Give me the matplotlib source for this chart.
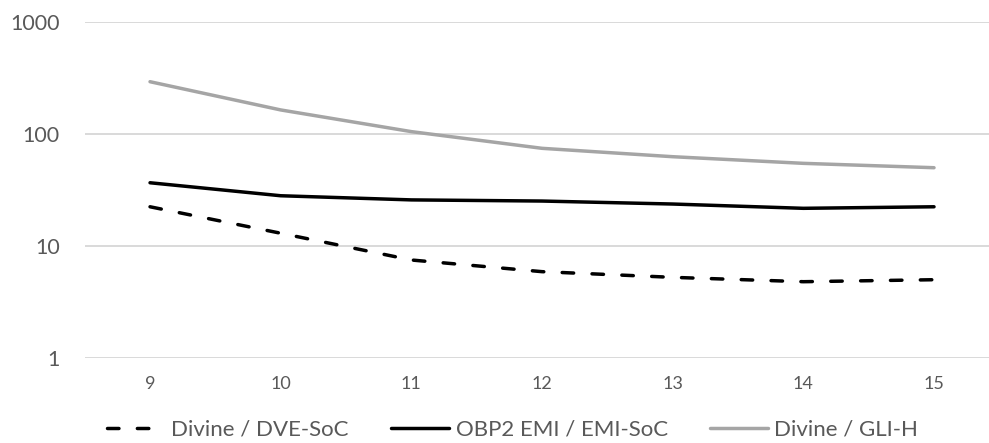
import matplotlib
matplotlib.use("Agg")
import matplotlib.pyplot as plt
from matplotlib.ticker import FixedLocator, NullLocator

categories = [9, 10, 11, 12, 13, 14, 15]
dve_soc = [22.4, 13.0, 7.5, 5.9, 5.25, 4.8, 5.0]
emi_soc = [36.7, 28.1, 25.8, 25.2, 23.7, 21.7, 22.4]
gli_h = [293, 164, 105, 74.5, 62.7, 54.7, 50]
series_names = ["Divine / DVE-SoC", "OBP2 EMI / EMI-SoC", "Divine / GLI-H"]
y_ticks = [1, 10, 100, 1000]
y_tick_labels = ["1", "10", "100", "1000"]

plt.rcParams['font.family'] = ['Lato', 'DejaVu Sans']

W, H = 989, 443
fig = plt.figure(figsize=(W / 100, H / 100), dpi=100)
left_px, right_px = 84.7, 989
top_px, bot_px = 22, 358
ax = fig.add_axes([left_px / W, 1 - bot_px / H, (right_px - left_px) / W, (bot_px - top_px) / H])

lw = 2.5
ax.plot(categories, dve_soc, color="black", lw=lw, linestyle=(0, (3.3, 5.3)),
        dash_capstyle="round", dash_joinstyle="round", label=series_names[0])
ax.plot(categories, emi_soc, color="black", lw=lw, solid_joinstyle="round",
        solid_capstyle="round", label=series_names[1])
ax.plot(categories, gli_h, color="#A5A5A5", lw=lw, solid_joinstyle="round",
        solid_capstyle="round", label=series_names[2])

ax.set_yscale("log")
ax.set_ylim(1, 1000)
ax.set_xlim(8.5, 15 + (989 - 934) / 130.7)
ax.yaxis.set_major_locator(FixedLocator(y_ticks))
ax.yaxis.set_minor_locator(NullLocator())
ax.set_yticklabels(y_tick_labels)
ax.set_xticks(categories)
ax.set_xticklabels([str(c) for c in categories])

ax.grid(axis="y", color="#D9D9D9", lw=1.4)
ax.set_axisbelow(True)
for s in ax.spines.values():
    s.set_visible(False)
ax.tick_params(axis="y", length=0, pad=18, labelsize=15.5, labelcolor="#595959")
ax.tick_params(axis="x", length=0, pad=13, labelsize=13, labelcolor="#595959")

leg = fig.legend(loc="center left", bbox_to_anchor=(107 / W, 1 - 430 / H), ncol=3,
                 frameon=False, fontsize=16, handlelength=2.6, handletextpad=0.3,
                 columnspacing=1.9, labelcolor="#595959", borderaxespad=0, borderpad=0)

fig.savefig("out.png", dpi=100)
